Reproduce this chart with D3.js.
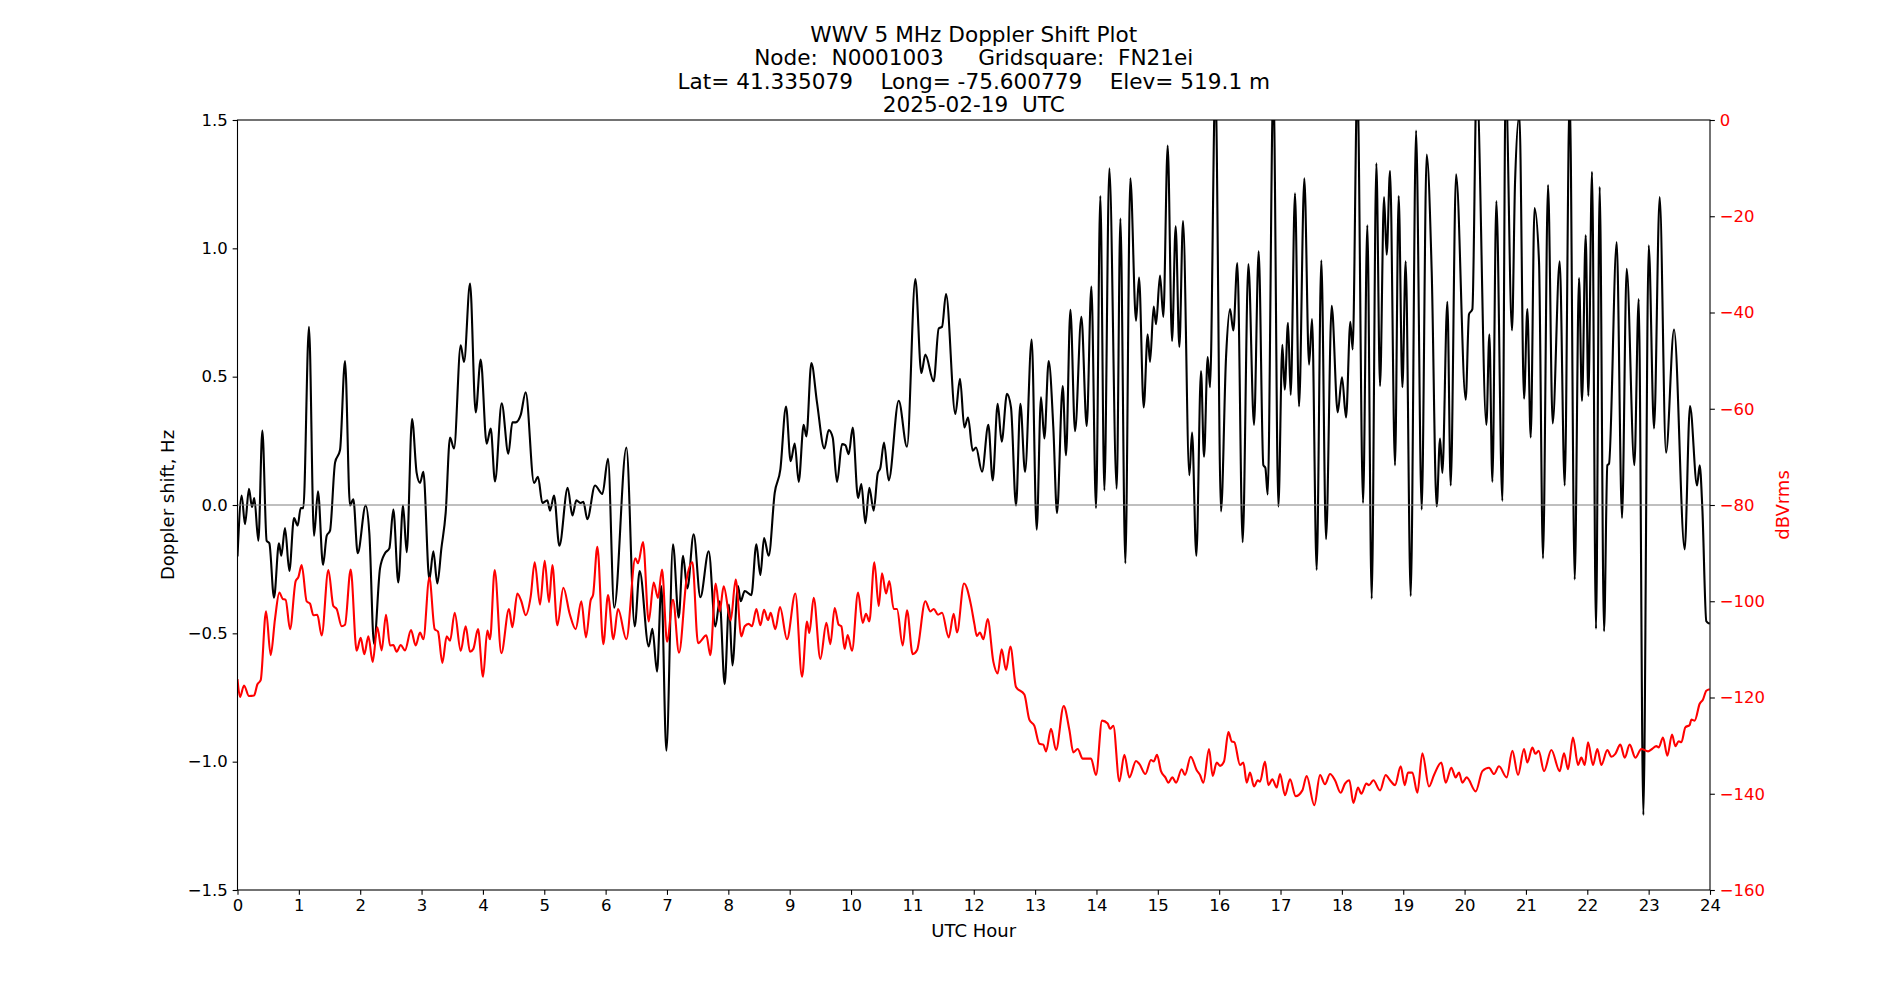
<!DOCTYPE html>
<html>
<head>
<meta charset="utf-8">
<script src="https://cdn.jsdelivr.net/npm/d3@7"></script>
<style>
  body { margin: 0; background: #fff; }
  svg { display: block; font-family: "DejaVu Sans", sans-serif; }
</style>
</head>
<body>
<svg id="chart"></svg>
<script>
// title lines
const titleLines = [
  "WWV 5 MHz Doppler Shift Plot",
  "Node:  N0001003     Gridsquare:  FN21ei",
  "Lat= 41.335079    Long= -75.600779    Elev= 519.1 m",
  "2025-02-19  UTC"
];

// x ticks (UTC hour)
const hourTicks = d3.range(0, 25);
const dopplerTicks = [-1.5, -1.0, -0.5, 0.0, 0.5, 1.0, 1.5];
const powerTicks = [-160, -140, -120, -100, -80, -60, -40, -20, 0];

// doppler shift (Hz)
const dopplerHour = [0,0.068,0.122,0.187,0.236,0.274,0.34,0.405,0.475,0.519,0.595,0.676,0.714,0.774,0.845,0.921,0.981,1.03,1.073,1.165,1.247,1.312,1.394,1.454,1.508,1.59,1.671,1.752,1.834,1.888,1.959,2.089,2.149,2.225,2.323,2.404,2.475,2.54,2.621,2.698,2.758,2.845,2.92,2.975,3.029,3.127,3.192,3.257,3.323,3.393,3.464,3.529,3.638,3.692,3.79,3.882,3.964,4.061,4.127,4.197,4.306,4.415,4.48,4.534,4.616,4.697,4.833,4.898,4.969,5.05,5.094,5.159,5.246,5.382,5.458,5.523,5.594,5.637,5.702,5.827,5.947,6.039,6.14,6.338,6.474,6.555,6.702,6.762,6.838,6.908,6.99,7.098,7.191,7.261,7.332,7.435,7.544,7.68,7.788,7.859,7.94,8.011,8.066,8.158,8.201,8.267,8.375,8.457,8.522,8.582,8.658,8.756,8.848,8.94,9.016,9.082,9.147,9.228,9.272,9.353,9.445,9.565,9.636,9.701,9.771,9.853,9.907,9.962,10.027,10.114,10.168,10.233,10.298,10.369,10.434,10.478,10.537,10.614,10.777,10.912,11.048,11.146,11.211,11.347,11.429,11.483,11.548,11.7,11.776,11.847,11.907,11.983,12.037,12.135,12.238,12.309,12.39,12.455,12.542,12.607,12.689,12.76,12.836,12.944,13.026,13.096,13.151,13.221,13.297,13.357,13.45,13.504,13.575,13.651,13.754,13.841,13.917,13.993,14.063,14.129,14.21,14.33,14.39,14.471,14.552,14.645,14.694,14.77,14.835,14.873,14.933,14.971,15.036,15.09,15.161,15.232,15.291,15.351,15.411,15.514,15.558,15.628,15.704,15.753,15.813,15.851,15.938,16.03,16.112,16.177,16.231,16.296,16.383,16.476,16.568,16.644,16.72,16.753,16.791,16.883,16.965,17.03,17.068,17.122,17.166,17.236,17.302,17.388,17.465,17.514,17.589,17.665,17.742,17.834,17.932,18.002,18.068,18.138,18.176,18.252,18.345,18.415,18.486,18.562,18.622,18.687,18.73,18.785,18.866,18.926,18.986,19.04,19.122,19.209,19.301,19.382,19.464,19.545,19.6,19.638,19.719,19.774,19.861,20.018,20.072,20.127,20.197,20.355,20.404,20.453,20.518,20.616,20.67,20.773,20.822,20.893,20.969,21.023,21.078,21.14,21.213,21.278,21.36,21.436,21.55,21.632,21.713,21.795,21.865,21.914,21.974,22.017,22.077,22.142,22.202,22.273,22.327,22.354,22.479,22.566,22.642,22.767,22.838,22.914,23.001,23.088,23.18,23.283,23.414,23.587,23.674,23.789,23.832,23.875,23.94,23.995];
const dopplerHz = [-0.2,0.037,-0.075,0.063,-0.008,0.027,-0.139,0.29,-0.139,-0.149,-0.361,-0.149,-0.198,-0.09,-0.257,-0.051,-0.08,-0.012,-0.012,0.694,-0.12,0.053,-0.233,-0.12,-0.1,0.165,0.214,0.561,-0.002,0.022,-0.188,-0.002,-0.11,-0.541,-0.247,-0.188,-0.169,-0.018,-0.302,-0.002,-0.184,0.335,0.125,0.086,0.129,-0.29,-0.18,-0.306,-0.169,-0.031,0.263,0.22,0.622,0.557,0.863,0.361,0.567,0.239,0.298,0.092,0.396,0.2,0.322,0.322,0.351,0.439,0.086,0.11,0.008,0.018,-0.022,0.037,-0.159,0.067,-0.041,0.018,0.008,0.012,-0.055,0.076,0.043,0.18,-0.4,0.224,-0.473,-0.257,-0.551,-0.482,-0.649,-0.316,-0.957,-0.153,-0.439,-0.198,-0.325,-0.114,-0.359,-0.18,-0.473,-0.375,-0.698,-0.388,-0.625,-0.316,-0.375,-0.335,-0.351,-0.153,-0.273,-0.129,-0.198,0.047,0.139,0.384,0.171,0.239,0.09,0.312,0.267,0.553,0.4,0.22,0.292,0.263,0.09,0.237,0.233,0.198,0.302,0.027,0.082,-0.071,0.067,-0.022,0.122,0.145,0.243,0.096,0.406,0.227,0.88,0.514,0.586,0.482,0.688,0.694,0.822,0.355,0.492,0.302,0.341,0.212,0.224,0.13,0.312,0.096,0.394,0.247,0.433,0.38,-0.002,0.394,0.129,0.645,-0.096,0.42,0.259,0.561,0.302,-0.031,0.463,0.194,0.761,0.288,0.733,0.308,0.851,-0.012,1.204,0.057,1.312,0.063,1.116,-0.227,1.273,0.718,0.886,0.38,0.665,0.557,0.773,0.704,0.894,0.733,1.4,0.639,1.086,0.616,1.106,0.116,0.282,-0.198,0.522,0.188,0.576,0.459,1.65,-0.025,0.576,0.763,0.68,0.943,-0.145,0.939,0.312,0.988,0.155,0.145,0.041,1.65,-0.006,0.624,0.449,0.71,0.429,1.214,0.384,1.273,0.547,0.724,-0.253,0.953,-0.133,0.776,0.361,0.498,0.341,0.714,0.606,1.65,0.008,1.09,-0.365,1.331,0.463,1.2,0.975,1.302,0.155,1.204,0.459,0.949,-0.355,1.459,-0.018,1.365,0.91,-0.006,0.259,0.125,0.792,0.076,1.288,0.41,0.743,0.763,1.65,0.312,0.665,0.09,1.184,0.016,1.65,0.68,1.253,1.52,0.414,0.763,0.263,1.157,0.949,-0.208,1.247,0.318,0.949,0.076,1.6,-0.29,0.884,0.406,1.051,0.425,1.298,-0.482,1.239,-0.492,0.155,0.161,1.024,-0.051,0.92,0.155,0.802,-1.208,1.012,0.298,1.2,0.204,0.684,-0.173,0.386,0.076,0.155,-0.012,-0.453,-0.463];

// received level (dBVrms)
const powerHour = [0,0.041,0.106,0.187,0.269,0.323,0.378,0.465,0.541,0.611,0.682,0.736,0.785,0.856,0.948,0.992,1.046,1.127,1.182,1.236,1.301,1.372,1.481,1.562,1.616,1.698,1.752,1.845,1.942,2.008,2.067,2.133,2.203,2.279,2.35,2.42,2.486,2.54,2.594,2.66,2.73,2.828,2.904,2.975,3.029,3.127,3.214,3.268,3.339,3.409,3.464,3.54,3.638,3.719,3.79,3.844,3.92,4.002,4.072,4.116,4.192,4.3,4.425,4.48,4.561,4.626,4.697,4.779,4.844,4.931,5.007,5.077,5.132,5.213,5.311,5.414,5.512,5.604,5.68,5.756,5.795,5.865,5.963,6.039,6.126,6.202,6.338,6.484,6.528,6.61,6.702,6.783,6.854,6.919,7.001,7.098,7.196,7.316,7.414,7.506,7.642,7.707,7.794,7.859,7.924,8.038,8.12,8.212,8.267,8.332,8.386,8.457,8.522,8.582,8.647,8.69,8.766,8.842,8.956,9.092,9.201,9.282,9.32,9.391,9.5,9.598,9.663,9.733,9.799,9.842,9.896,9.945,10.016,10.114,10.19,10.244,10.298,10.38,10.451,10.505,10.57,10.624,10.695,10.749,10.842,10.912,11.005,11.075,11.211,11.293,11.347,11.418,11.483,11.592,11.673,11.727,11.841,11.955,12.01,12.05,12.1,12.157,12.227,12.32,12.39,12.455,12.526,12.597,12.689,12.825,12.906,12.988,13.069,13.134,13.178,13.259,13.341,13.466,13.558,13.623,13.694,13.776,13.911,13.993,14.091,14.183,14.221,14.275,14.373,14.455,14.536,14.645,14.699,14.797,14.889,14.933,14.987,15.052,15.123,15.172,15.237,15.297,15.389,15.443,15.536,15.634,15.688,15.742,15.835,15.894,15.96,16.014,16.079,16.15,16.204,16.248,16.34,16.394,16.449,16.503,16.568,16.628,16.666,16.747,16.802,16.867,16.937,16.992,17.073,17.155,17.247,17.356,17.426,17.551,17.644,17.725,17.807,17.888,17.98,18.051,18.122,18.187,18.263,18.317,18.399,18.442,18.513,18.622,18.714,18.785,18.866,18.959,19.024,19.078,19.149,19.23,19.312,19.42,19.502,19.621,19.692,19.784,19.855,19.909,19.964,20.034,20.181,20.29,20.398,20.48,20.561,20.686,20.779,20.871,20.969,21.023,21.105,21.154,21.208,21.295,21.414,21.55,21.621,21.686,21.767,21.849,21.903,21.958,22.012,22.093,22.164,22.229,22.327,22.392,22.457,22.539,22.61,22.691,22.783,22.881,22.99,23.055,23.126,23.164,23.234,23.305,23.381,23.435,23.49,23.533,23.598,23.669,23.696,23.75,23.832,23.886,23.94,23.995];
const powerDb = [-116.2,-119.9,-117.5,-119.7,-119.6,-117.3,-116.4,-102.1,-111.2,-103.7,-98.2,-99.5,-99.7,-105.8,-95.8,-95,-92.5,-100,-100.5,-102.9,-102.8,-107.1,-93.5,-101,-101.6,-105.2,-104.9,-93.4,-110.3,-107.6,-111,-107.3,-112.6,-105.4,-110.2,-102.8,-109.2,-109.1,-110.5,-109.1,-110.2,-106,-109.2,-106.5,-107.9,-95.1,-105.8,-106.3,-112.8,-107.3,-108.2,-102.4,-110.3,-105.2,-110.5,-109.9,-105.8,-115.7,-106.1,-107.9,-93.5,-110.8,-101.6,-105.4,-98.4,-100,-102.9,-99,-91.9,-100.7,-91.6,-100.2,-92.5,-105,-97.2,-102.6,-105.8,-100,-107.5,-99.8,-98.7,-88.7,-108.9,-98.7,-107.9,-101.6,-107.9,-91.1,-92.1,-87.7,-104.2,-96.1,-99.3,-93.4,-108.4,-99.7,-110.7,-95.8,-91.9,-108.7,-107.1,-111.2,-96.3,-102.1,-96.9,-104,-95.5,-107.3,-105.2,-104.7,-105.2,-101.6,-105,-101.8,-103.9,-102.4,-105.8,-101.2,-107.9,-98.4,-115.7,-104.2,-106.6,-99.3,-112,-104.5,-108.9,-101.4,-104.9,-105.2,-109.9,-107,-110.3,-98.2,-104.5,-102.6,-104.2,-91.9,-101,-94.2,-98.4,-95.8,-101.6,-101.6,-109.2,-101.9,-111,-110.2,-100,-102.1,-101.6,-102.8,-102.4,-107.5,-102.6,-106.5,-96.3,-100.8,-104.7,-107.2,-106.5,-107.9,-103.7,-112.6,-115,-110,-114.3,-109.4,-117.8,-119.4,-124.6,-125.9,-129.6,-129.8,-131.2,-126.5,-130.9,-121.8,-126.7,-131.4,-130.7,-132.7,-132.7,-136.1,-124.8,-125.4,-126.5,-125.9,-137.4,-131.9,-136.6,-133.2,-133.8,-135.9,-133,-133.3,-131.9,-135.3,-136.6,-137.7,-136.6,-137.7,-134.9,-136.1,-132.3,-135.1,-136.1,-137.7,-130.7,-136.3,-133.5,-134.2,-133.3,-127.2,-129.1,-129.3,-134,-133.5,-137.7,-135.6,-138.5,-137.2,-137.5,-133.3,-138.2,-137,-138.7,-135.9,-140.3,-137,-140.5,-139.3,-136.3,-142.4,-136.1,-138,-135.9,-137.2,-139.8,-137.9,-137.2,-141.9,-138.7,-140,-137.9,-138.2,-137.2,-139.3,-136.1,-137.2,-138.2,-134.3,-138.2,-135.6,-135.6,-139.8,-131.6,-138.5,-136.1,-133.5,-137.7,-134.6,-136.6,-135.6,-137.7,-136.6,-139.5,-135.3,-134.6,-135.9,-134.3,-136.6,-131.1,-136.1,-130.7,-133.5,-130.4,-131.7,-131.1,-135.3,-130.9,-135.3,-131.6,-134.9,-128.3,-134,-132.5,-134,-129.3,-134,-130.7,-134,-130.9,-132.3,-131.7,-129.8,-132.5,-129.8,-132.5,-130.7,-131.2,-130.7,-130.1,-130.4,-128.3,-132.1,-127.7,-130.1,-129.1,-129.3,-126.2,-125.7,-124.6,-124.8,-121.3,-120.4,-118.6,-118.3];

const width = 1900;
const height = 1000;
const margin = { top: 120, right: 190, bottom: 110, left: 237.5 };
const plotW = width - margin.left - margin.right;
const plotH = height - margin.top - margin.bottom;
const tickLen = 4.86;
const tickPad = 4.86;

const svg = d3.select("#chart").attr("width", width).attr("height", height);

const x = d3.scaleLinear().domain([0, 24]).range([0, plotW]);
const yL = d3.scaleLinear().domain([-1.5, 1.5]).range([plotH, 0]);
const yR = d3.scaleLinear().domain([-160, 0]).range([plotH, 0]);

// title (keep the repeated spaces)
svg.append("g")
  .selectAll("text")
  .data(titleLines)
  .enter()
  .append("text")
  .attr("x", margin.left + plotW / 2)
  .attr("y", (d, i) => 42 + i * 23.3)
  .attr("text-anchor", "middle")
  .style("font-size", "21.6px")
  .style("white-space", "pre")
  .text((d) => d);

const g = svg.append("g").attr("transform", `translate(${margin.left},${margin.top})`);

g.append("clipPath")
  .attr("id", "plotClip")
  .append("rect")
  .attr("width", plotW)
  .attr("height", plotH);

// lines
const dopLine = d3.line()
  .x((d, i) => x(dopplerHour[i]))
  .y((d) => yL(d))
  .curve(d3.curveMonotoneX);

const powLine = d3.line()
  .x((d, i) => x(powerHour[i]))
  .y((d) => yR(d))
  .curve(d3.curveMonotoneX);

g.append("path")
  .datum(dopplerHz)
  .attr("clip-path", "url(#plotClip)")
  .attr("fill", "none")
  .attr("stroke", "black")
  .attr("stroke-width", 2.1)
  .attr("stroke-linejoin", "round")
  .attr("d", dopLine);

g.append("line")
  .attr("x1", 0)
  .attr("x2", plotW)
  .attr("y1", yL(0))
  .attr("y2", yL(0))
  .attr("stroke", "#808080")
  .attr("stroke-width", 1.1);

g.append("path")
  .datum(powerDb)
  .attr("clip-path", "url(#plotClip)")
  .attr("fill", "none")
  .attr("stroke", "red")
  .attr("stroke-width", 2.1)
  .attr("stroke-linejoin", "round")
  .attr("d", powLine);

// axes
function styleAxis(sel, color) {
  sel.select(".domain").remove();
  sel.selectAll(".tick line").attr("stroke", "black").attr("stroke-width", 1.1);
  sel.selectAll(".tick text")
    .attr("fill", color)
    .style("font-size", "16.5px")
    .style("font-family", "DejaVu Sans");
}

g.append("g")
  .attr("transform", `translate(0,${plotH})`)
  .call(d3.axisBottom(x).tickValues(hourTicks).tickFormat(d3.format("d"))
    .tickSizeInner(tickLen).tickSizeOuter(0).tickPadding(tickPad))
  .call((s) => styleAxis(s, "black"));

g.append("g")
  .call(d3.axisLeft(yL).tickValues(dopplerTicks).tickFormat(d3.format(".1f"))
    .tickSizeInner(tickLen).tickSizeOuter(0).tickPadding(tickPad))
  .call((s) => styleAxis(s, "black"));

g.append("g")
  .attr("transform", `translate(${plotW},0)`)
  .call(d3.axisRight(yR).tickValues(powerTicks).tickFormat(d3.format("d"))
    .tickSizeInner(tickLen).tickSizeOuter(0).tickPadding(tickPad))
  .call((s) => styleAxis(s, "red"));

// frame
g.append("rect")
  .attr("width", plotW)
  .attr("height", plotH)
  .attr("fill", "none")
  .attr("stroke", "black")
  .attr("stroke-width", 1.1);

// axis labels
svg.append("text")
  .attr("x", margin.left + plotW / 2)
  .attr("y", 937)
  .attr("text-anchor", "middle")
  .style("font-size", "18px")
  .text("UTC Hour");

svg.append("text")
  .attr("transform", `translate(167,${margin.top + plotH / 2}) rotate(-90)`)
  .attr("text-anchor", "middle")
  .attr("dominant-baseline", "central")
  .style("font-size", "18px")
  .text("Doppler shift, Hz");

svg.append("text")
  .attr("transform", `translate(1782,${margin.top + plotH / 2}) rotate(-90)`)
  .attr("text-anchor", "middle")
  .attr("dominant-baseline", "central")
  .attr("fill", "red")
  .style("font-size", "18px")
  .text("dBVrms");
</script>
</body>
</html>
